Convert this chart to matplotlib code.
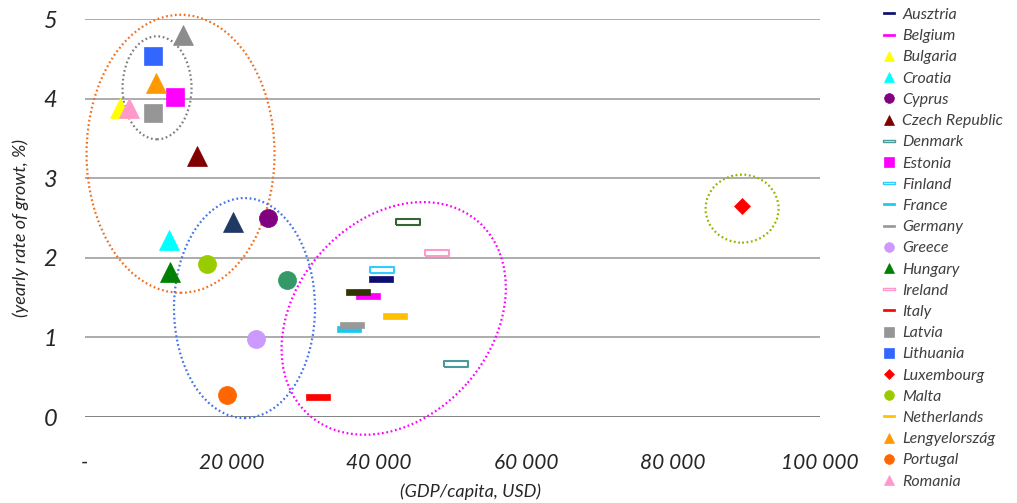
import matplotlib.pyplot as plt
import numpy as np
from matplotlib.lines import Line2D
from matplotlib.patches import Ellipse
from matplotlib.transforms import ScaledTranslation

countries = ["Ausztria", "Belgium", "Bulgaria", "Croatia", "Cyprus", "Czech Republic",
             "Denmark", "Estonia", "Finland", "France", "Germany", "Greece", "Hungary",
             "Ireland", "Italy", "Latvia", "Lithuania", "Luxembourg", "Malta",
             "Netherlands", "Lengyelország", "Portugal", "Romania"]
gdp = [40300, 38500, 4800, 11400, 24900, 15200, 50500, 12200, 40400, 35900, 36300,
       23300, 11600, 47900, 31700, 9250, 9250, 89400, 16600, 42200, 9700, 19300, 6000]
growth = [1.73, 1.52, 3.88, 2.22, 2.50, 3.28, 0.67, 4.03, 1.85, 1.11, 1.16, 0.98, 1.82,
          2.06, 0.25, 3.82, 4.54, 2.65, 1.92, 1.27, 4.20, 0.28, 3.88]

# countries that fall off the end of the legend
extra_gdp = [13300, 20100, 27500, 37100, 44000]
extra_growth = [4.80, 2.45, 1.72, 1.57, 2.45]

# marker kind and colour per country
kinds = ["dash", "dash", "tri", "tri", "circ", "tri", "hollow", "sq", "hollow", "dash",
         "dash", "circ", "tri", "hollow", "dash", "sq", "sq", "diam", "circ", "dash",
         "tri", "circ", "tri"]
colors = ["#0d0d70", "#ff00ff", "#ffff00", "#00ffff", "#800080", "#800000", "#4a9a9a",
          "#ff00ff", "#33ccff", "#1ac8f0", "#999999", "#cc99ff", "#008000", "#ff99cc",
          "#ff0000", "#969696", "#3366ff", "#ff0000", "#99cc00", "#ffc000", "#ff9900",
          "#ff6600", "#ff99cc"]
extra_kinds = ["tri", "tri", "circ", "dash", "hollow"]
extra_colors = ["#8c8c8c", "#1f3864", "#339966", "#333300", "#336633"]

# dotted ellipses: centre (gdp, growth), width/height in pixels, angle, colour
ellipses = [((13000, 3.31), 188, 278, 0, "#f07020"),
            ((9800, 4.14), 69, 103, 0, "#808080"),
            ((21700, 1.37), 141, 220, 0, "#4472e8"),
            ((42000, 1.24), 257, 196, 49, "#ff00ff"),
            ((89400, 2.62), 73, 68, 0, "#99b000")]

DASH = [(-1, -0.22), (1, -0.22), (1, 0.22), (-1, 0.22), (-1, -0.22)]


def style(kind, color, big=True):
    if kind == "dash":
        return dict(marker=DASH, ms=17 if big else 8.5, mfc=color, mec=color, mew=0.5)
    if kind == "hollow":
        return dict(marker=DASH, ms=17 if big else 8.5, mfc="white", mec=color,
                    mew=1.5 if big else 1.0)
    m = {"tri": "^", "circ": "o", "sq": "s", "diam": "D"}[kind]
    size = {"tri": 14, "circ": 13, "sq": 13, "diam": 8}[kind]
    small = {"tri": 7.5, "circ": 7, "sq": 7, "diam": 5}[kind]
    return dict(marker=m, ms=size if big else small, mfc=color, mec=color, mew=0.5)


plt.rcParams['font.family'] = ['Lato', 'DejaVu Sans']

fig = plt.figure(figsize=(10.17, 5.03), dpi=100)
ax = fig.add_axes([85 / 1017, 86 / 503, 735 / 1017, 398 / 503])
ax.set_xlim(0, 100000)
ax.set_ylim(0, 5.005)

ax.set_yticks(range(6))
ax.yaxis.grid(True, color="#a6a6a6", lw=1.3)
ax.set_axisbelow(True)
for s in ax.spines.values():
    s.set_visible(False)
ax.axhline(0, color="#7f7f7f", lw=2, zorder=1)

ax.set_xticks([0, 20000, 40000, 60000, 80000, 100000])
ax.set_xticklabels(["-", "20 000", "40 000", "60 000", "80 000", "100 000"])
ax.tick_params(axis="x", length=0, pad=26, labelsize=15, labelcolor="#262626")
ax.tick_params(axis="y", length=0, pad=20, labelsize=17, labelcolor="#262626")
for lab in ax.get_xticklabels() + ax.get_yticklabels():
    lab.set_fontstyle("italic")

for (cx, cy), w, h, ang, c in ellipses:
    tr = fig.dpi_scale_trans + ScaledTranslation(cx, cy, ax.transData)
    ax.add_patch(Ellipse((0, 0), w / 100, h / 100, angle=ang, transform=tr,
                         fill=False, ec=c, lw=1.6, ls=(0, (0.8, 1.2)), zorder=2,
                         clip_on=False))

handles = []
for x, y, k, c in zip(gdp, growth, kinds, colors):
    ax.plot([x], [y], ls="none", zorder=3, clip_on=False, **style(k, c))
    handles.append(Line2D([], [], ls="none", **style(k, c, big=False)))
for x, y, k, c in zip(extra_gdp, extra_growth, extra_kinds, extra_colors):
    ax.plot([x], [y], ls="none", zorder=3, clip_on=False, **style(k, c))

fig.text(21 / 1017, 1 - 228 / 503, "(yearly rate of growt, %)", rotation=90,
         ha="center", va="center", fontsize=13, style="italic", color="#262626")
fig.text(470 / 1017, 1 - 492 / 503, "(GDP/capita, USD)", ha="center", va="center",
         fontsize=13, style="italic", color="#262626")

fig.legend(handles, countries, loc="upper left", bbox_to_anchor=(875 / 1017, 0.997),
           frameon=False, handlelength=0.9, handletextpad=0.4, labelspacing=0.44,
           prop={"size": 11.5, "style": "italic"}, labelcolor="#404040",
           borderaxespad=0)

fig.savefig("out.png", dpi=100)
